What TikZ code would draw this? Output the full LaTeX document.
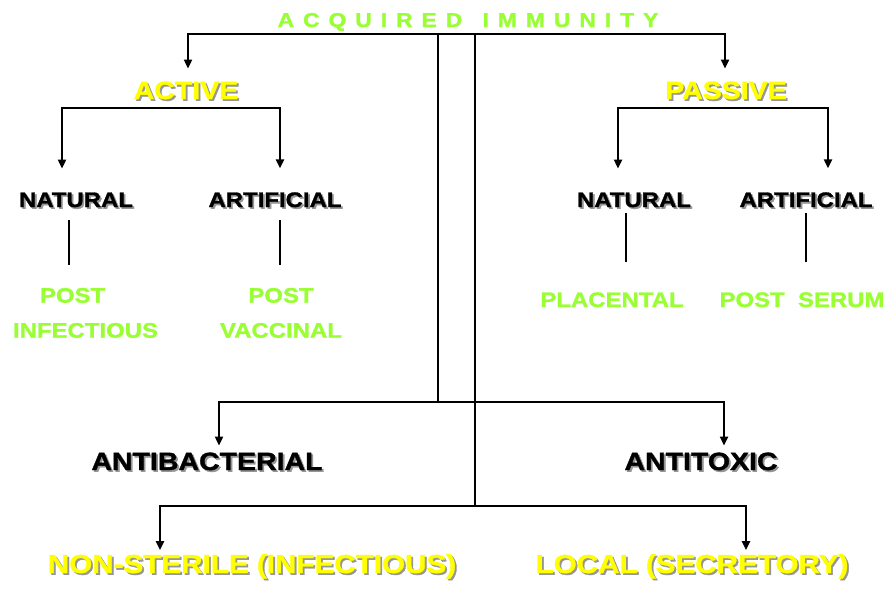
\documentclass[tikz,border=0pt]{standalone}
\usepackage{fontspec}
\newfontfamily\lab[FakeStretch=1.14, FakeBold=1.3]{Liberation Sans Bold}
\usetikzlibrary{arrows.meta}
\definecolor{lime}{RGB}{153,255,51}
\definecolor{yel}{RGB}{255,255,0}
\definecolor{shad}{RGB}{150,150,150}
\newcommand{\shtext}[2]{\rlap{\kern1.8pt\raisebox{-1.8pt}{\textcolor{shad}{#2}}}\textcolor{#1}{#2}}
\begin{document}
\begin{tikzpicture}[x=1pt,y=-1pt,
  conn/.style={line width=2.1pt, black},
  arr/.style={conn, -{Triangle[length=9pt,width=8pt]}},
  lbl/.style={inner sep=0pt, outer sep=0pt, anchor=base},
  big/.style={lbl, font=\lab\fontsize{25}{30}\selectfont},
  mid/.style={lbl, font=\lab\fontsize{21}{35}\selectfont},
  huge/.style={lbl, font=\lab\fontsize{26}{30}\selectfont},
]
\useasboundingbox[fill=white] (0,0) rectangle (890,592);

% title
\node[lbl, font=\lab\fontsize{20}{20}\selectfont\addfontfeature{LetterSpace=45}, text=lime] (acq) at (468,27) {ACQUIRED\hspace{5pt} IMMUNITY};

% level 1
\node[big] (act) at (186,99) {\shtext{yel}{ACTIVE}};
\node[big] (pas) at (726,99) {\shtext{yel}{PASSIVE}};

% level 2
\node[mid] (nat1) at (76,207) {\shtext{black}{NATURAL}};
\node[mid] (art1) at (275,207) {\shtext{black}{ARTIFICIAL}};
\node[mid] (nat2) at (634,207) {\shtext{black}{NATURAL}};
\node[mid] (art2) at (806,207) {\shtext{black}{ARTIFICIAL}};

% level 3
\node[mid, anchor=north west, align=left, text=lime] (pi) at (13,288) {\hspace*{27pt}POST\\INFECTIOUS};
\node[mid, anchor=north, align=center, text=lime] (pv) at (281,288) {POST\\VACCINAL};
\node[mid, text=lime] (pl) at (612,307) {PLACENTAL};
\node[mid, text=lime] (ps) at (802,307) {POST\ \ SERUM};

% lower part
\node[big] (ab) at (207,470) {\shtext{black}{ANTIBACTERIAL}};
\node[big] (at) at (701,470) {\shtext{black}{ANTITOXIC}};
\node[huge] (ns) at (252,573) {\shtext{yel}{NON-STERILE (INFECTIOUS)}};
\node[huge] (lc) at (692,573) {\shtext{yel}{LOCAL (SECRETORY)}};

% coordinates
\coordinate (t1) at (188,34);
\coordinate (t2) at (725,34);
\coordinate (v1) at (438,34);
\coordinate (v2) at (475,34);
\coordinate (a1) at (62,108);
\coordinate (a2) at (280,108);
\coordinate (p1) at (618,108);
\coordinate (p2) at (828,108);
\coordinate (b1) at (219,402);
\coordinate (b2) at (724,402);
\coordinate (bm) at (438,402);
\coordinate (c1) at (160,506);
\coordinate (c2) at (746,506);
\coordinate (cm) at (475,506);
\coordinate (l1) at (69,0);
\coordinate (l2) at (280,0);
\coordinate (l3) at (626,0);
\coordinate (l4) at (806,0);

% top bar
\draw[arr, shorten >=13pt] (t2) -- (t1) -- (t1 |- act.north);
\draw[arr, shorten >=13pt] (t1) -- (t2) -- (t2 |- pas.north);
\draw[conn] (v1) -- (bm);
\draw[conn] (v2) -- (cm);

% active / passive bars
\draw[arr, shorten >=24pt] (a2) -- (a1) -- (a1 |- nat1.north);
\draw[arr, shorten >=24pt] (a1) -- (a2) -- (a2 |- art1.north);
\draw[arr, shorten >=24pt] (p2) -- (p1) -- (p1 |- nat2.north);
\draw[arr, shorten >=24pt] (p1) -- (p2) -- (p2 |- art2.north);

% plain lines
\draw[conn, shorten <=13pt, shorten >=23pt] (nat1.base -| l1) -- (pi.north -| l1);
\draw[conn, shorten <=13pt, shorten >=23pt] (art1.base -| l2) -- (pv.north -| l2);
\draw[conn, shorten <=6pt, shorten >=30pt] (nat2.base -| l3) -- (pl.north -| l3);
\draw[conn, shorten <=6pt, shorten >=30pt] (art2.base -| l4) -- (ps.north -| l4);

% antibacterial / antitoxic
\draw[arr, shorten >=7pt] (b2) -- (b1) -- (b1 |- ab.north);
\draw[arr, shorten >=7pt] (b1) -- (b2) -- (b2 |- at.north);

% non-sterile / local
\draw[arr, shorten >=4pt] (c2) -- (c1) -- (c1 |- ns.north);
\draw[arr, shorten >=4pt] (c1) -- (c2) -- (c2 |- lc.north);
\end{tikzpicture}
\end{document}
